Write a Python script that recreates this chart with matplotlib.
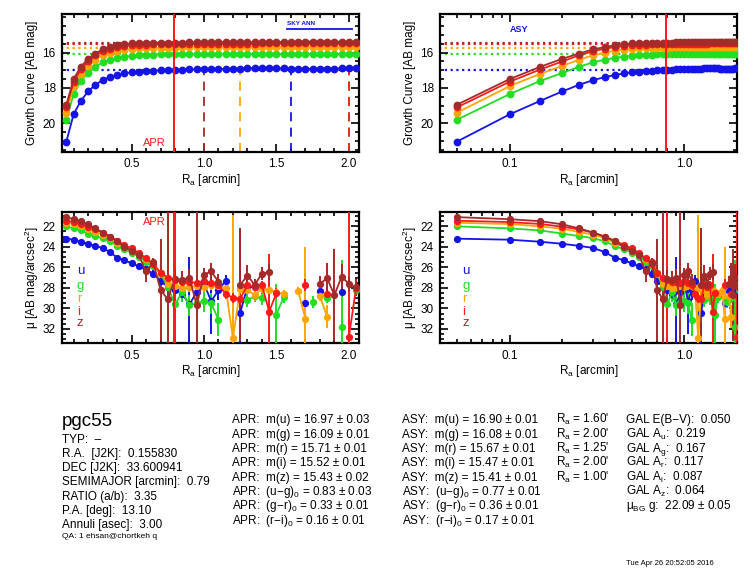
import numpy as np
import matplotlib
matplotlib.use("Agg")
import matplotlib.pyplot as plt
from matplotlib.ticker import MultipleLocator, LogLocator, FixedLocator, NullFormatter

plt.rcParams['font.family'] = ['Liberation Sans', 'DejaVu Sans']
plt.rcParams['mathtext.fontset'] = 'custom'
plt.rcParams['mathtext.rm'] = 'Liberation Sans'
plt.rcParams['mathtext.it'] = 'Liberation Sans:italic'
plt.rcParams['mathtext.bf'] = 'Liberation Sans:bold'

# ---------------- data ----------------
bands = ['u', 'g', 'r', 'i', 'z']
colors = ['#1414e6', '#22dd22', '#ffa500', '#ff1a1a', '#a52a2a']
nan = np.nan
radius = np.round(np.arange(1, 42) * 0.05, 2)  # arcmin

gc_u = [21.04, 19.50, 18.73, 18.20, 17.82, 17.56, 17.39, 17.27, 17.18, 17.11, 17.07, 17.04, 17.02, 17.00,
        16.98, 16.97, 16.96, 16.95, 16.95, 16.94, 16.93, 16.93, 16.92, 16.91, 16.90, 16.89, 16.87, 16.86,
        16.85, 16.87, 16.89, 16.90, 16.91, 16.91, 16.91, 16.90, 16.90, 16.90, 16.89, 16.89, 16.89]
gc_g = [19.80, 18.35, 17.60, 17.15, 16.80, 16.55, 16.40, 16.30, 16.23, 16.18, 16.15, 16.13, 16.11, 16.10,
        16.09, 16.09, 16.09, 16.10, 16.10, 16.10, 16.09, 16.09, 16.09, 16.09, 16.09, 16.09, 16.09, 16.09,
        16.09, 16.09, 16.08, 16.08, 16.08, 16.08, 16.08, 16.08, 16.08, 16.08, 16.08, 16.08, 16.08]
gc_r = [19.40, 17.90, 17.20, 16.75, 16.40, 16.15, 16.00, 15.90, 15.83, 15.79, 15.76, 15.74, 15.73, 15.72,
        15.71, 15.71, 15.70, 15.70, 15.69, 15.69, 15.69, 15.68, 15.68, 15.68, 15.67, 15.67, 15.67, 15.67,
        15.66, 15.66, 15.66, 15.66, 15.66, 15.66, 15.66, 15.66, 15.66, 15.66, 15.66, 15.66, 15.66]
gc_i = [19.10, 17.65, 16.95, 16.50, 16.15, 15.92, 15.78, 15.68, 15.62, 15.58, 15.56, 15.54, 15.53, 15.52,
        15.52, 15.52, 15.51, 15.51, 15.50, 15.50, 15.50, 15.50, 15.50, 15.50, 15.49, 15.49, 15.49, 15.48,
        15.48, 15.48, 15.48, 15.48, 15.48, 15.47, 15.47, 15.47, 15.47, 15.47, 15.47, 15.47, 15.47]
gc_z = [18.95, 17.50, 16.80, 16.35, 16.05, 15.82, 15.68, 15.58, 15.52, 15.48, 15.46, 15.45, 15.44, 15.43,
        15.43, 15.43, 15.43, 15.42, 15.42, 15.41, 15.41, 15.41, 15.41, 15.41, 15.41, 15.41, 15.41, 15.40,
        15.40, 15.40, 15.39, 15.39, 15.38, 15.37, 15.37, 15.37, 15.37, 15.38, 15.38, 15.38, 15.38]

sb_u = [23.2, 23.3, 23.5, 23.7, 23.9, 24.1, 24.5, 25.05, 25.3, 25.6, 25.9, 26.2, 26.6, 27.3,
        27.9, 28.2, 28.6, 29.6, 28.4, 27.6, 29.3, 28.2, 27.3, nan, 30.4, 27.9, 27.95, nan,
        nan, nan, nan, nan, nan, 29.45, nan, 28.3, nan, nan, 28.4, nan, nan]
sb_u_err = [0.05, 0.05, 0.05, 0.05, 0.05, 0.05, 0.05, 0.05, 0.05, 0.08, 0.1, 0.15, 0.3, 0.5,
            0.6, 0.8, 0.8, 4.6, 1.0, 0.8, 3.2, 1.0, 0.6, nan, 8.0, 0.5, 0.5, nan,
            nan, nan, nan, nan, nan, 0.4, nan, 0.4, nan, nan, 0.4, nan, nan]
sb_g = [22.0, 22.2, 22.4, 22.7, 22.95, 23.15, 23.45, 23.9, 24.25, 24.55, 24.95, 25.45, 25.9, 26.6,
        27.9, 29.6, 28.4, 29.7, 29.5, 29.3, 29.5, 31.1, nan, nan, nan, 29.2, 28.8, 29.0,
        nan, 30.6, 28.9, nan, nan, nan, 29.4, nan, 29.0, nan, 31.8, nan, 28.2]
sb_g_err = [0.05, 0.05, 0.05, 0.05, 0.05, 0.05, 0.05, 0.05, 0.05, 0.05, 0.08, 0.1, 0.3, 0.6,
            1.0, 1.5, 1.0, 1.0, 1.0, 1.0, 1.0, 1.6, nan, nan, nan, 0.7, 0.6, 0.7,
            nan, 3.0, 0.6, nan, nan, nan, 0.6, nan, 0.5, nan, 6.5, nan, 0.5]
sb_r = [21.65, 21.77, 22.0, 22.23, 22.55, 22.8, 23.17, 23.6, 24.0, 24.3, 24.7, 25.2, 25.7, 26.5,
        27.6, 27.8, 28.0, 27.9, 27.8, 27.9, 27.7, 27.8, 28.0, 32.9, 28.1, 28.2, 28.7, 28.05,
        28.2, 28.4, 28.6, nan, 28.3, 31.0, nan, 28.8, 30.8, nan, nan, nan, nan]
sb_r_err = [0.05, 0.05, 0.05, 0.05, 0.05, 0.05, 0.05, 0.05, 0.05, 0.05, 0.05, 0.1, 0.2, 0.4,
            0.6, 0.5, 0.5, 0.5, 0.5, 0.5, 0.5, 0.5, 0.5, 12.0, 0.5, 0.4, 0.6, 0.4,
            0.4, 0.4, 0.4, nan, 0.4, 7.0, nan, 0.5, 1.1, nan, nan, nan, nan]
sb_i = [21.45, 21.58, 21.77, 22.03, 22.3, 22.6, 23.0, 23.4, 23.8, 24.15, 24.6, 25.1, 25.7, 26.5,
        27.0, 27.2, 27.4, 27.45, 27.5, 27.3, 27.5, 27.7, 28.6, 28.95, 29.05, 27.75, 27.9, 27.75,
        30.3, 28.5, nan, nan, nan, 27.7, nan, nan, 28.55, nan, nan, 32.8, 28.0]
sb_i_err = [0.05, 0.05, 0.05, 0.05, 0.05, 0.05, 0.05, 0.05, 0.05, 0.05, 0.05, 0.1, 0.2, 0.4,
            0.5, 12.0, 0.5, 0.5, 0.5, 0.5, 0.5, 0.5, 0.5, 0.5, 0.5, 0.4, 0.4, 0.4,
            5.6, 0.5, nan, nan, nan, 0.6, nan, nan, 0.6, nan, nan, 13.0, 0.6]
sb_z = [21.1, 21.3, 21.5, 21.8, 22.2, 22.6, 23.0, 23.45, 24.0, 24.4, 24.8, 26.4, 25.5, 28.2,
        29.1, 27.1, 27.2, 27.0, 29.7, 26.7, 26.4, 27.4, nan, nan, 27.7, 26.8, 27.7, 26.6,
        26.45, nan, nan, nan, nan, nan, nan, 27.6, 27.05, 28.7, 26.9, 27.6, 27.95]
sb_z_err = [0.05, 0.05, 0.05, 0.05, 0.05, 0.05, 0.05, 0.05, 0.05, 0.05, 0.1, 1.0, 0.4, 5.0,
            10.0, 0.9, 0.8, 0.8, 10.0, 0.6, 0.8, 0.8, nan, nan, 5.5, 1.0, 0.6, 0.6,
            0.8, nan, nan, nan, nan, nan, nan, 0.8, 1.5, 4.5, 1.2, 0.7, 0.8]

growth = [gc_u, gc_g, gc_r, gc_i, gc_z]
sbs = [sb_u, sb_g, sb_r, sb_i, sb_z]
sb_errs = [sb_u_err, sb_g_err, sb_r_err, sb_i_err, sb_z_err]

apr_radius = 0.79
apr_mag = [16.97, 16.09, 15.71, 15.52, 15.43]
apr_err = [0.03, 0.01, 0.01, 0.01, 0.02]
asy_mag = [16.90, 16.08, 15.67, 15.47, 15.41]
asy_err = [0.01, 0.01, 0.01, 0.01, 0.01]
asy_ra = [1.60, 2.00, 1.25, 2.00, 1.00]
apr_colors = [('u', 'g', 0.83, 0.03), ('g', 'r', 0.33, 0.01), ('r', 'i', 0.16, 0.01)]
asy_colors = [('u', 'g', 0.77, 0.01), ('g', 'r', 0.36, 0.01), ('r', 'i', 0.17, 0.01)]
sky_ann = [1.57, 2.02]
gal_ebv = 0.050
gal_A = [0.219, 0.167, 0.117, 0.087, 0.064]
mu_bg_g = (22.09, 0.05)
info_labels = ['TYP:  \u2013', 'R.A.  [J2K]:  0.155830', 'DEC [J2K]:  33.600941',
               'SEMIMAJOR [arcmin]:  0.79', 'RATIO (a/b):  3.35', 'P.A. [deg]:  13.10',
               'Annuli [asec]:  3.00']
galaxy = 'pgc55'
qa_text = 'QA: 1 ehsan@chortkeh q'
date_text = 'Tue Apr 26 20:52:05 2016'

# ---------------- figure ----------------
W, H = 756, 576
fig = plt.figure(figsize=(W / 100, H / 100), dpi=100)

def ax_at(x0, y0, x1, y1):
    return fig.add_axes([x0 / W, 1 - y1 / H, (x1 - x0) / W, (y1 - y0) / H])

ax_tl = ax_at(62, 14, 359, 152)
ax_tr = ax_at(440, 14, 737, 152)
ax_bl = ax_at(62, 212, 359, 343.3)
ax_br = ax_at(440, 212, 737, 343.3)

FS = 8.5
xlab = r'R$_\mathrm{a}$ [arcmin]'

def style(ax, logx):
    for s in ax.spines.values():
        s.set_linewidth(1.6)
    ax.tick_params(which='both', direction='in', top=True, right=True, labelsize=FS, width=1.2)
    ax.tick_params(which='major', length=6, pad=4.5)
    ax.tick_params(which='minor', length=3)
    if logx:
        ax.set_xscale('log')
        ax.set_xlim(0.04, 2.0)
        ax.xaxis.set_major_locator(FixedLocator([0.1, 1.0]))
        ax.set_xticklabels(['0.1', '1.0'])
        ax.xaxis.set_minor_locator(LogLocator(base=10, subs=np.arange(2, 10) * 1.0))
        ax.xaxis.set_minor_formatter(NullFormatter())
    else:
        ax.set_xlim(0.02, 2.07)
        ax.xaxis.set_major_locator(FixedLocator([0.5, 1.0, 1.5, 2.0]))
        ax.set_xticklabels(['0.5', '1.0', '1.5', '2.0'])
        ax.xaxis.set_minor_locator(MultipleLocator(0.1))
    ax.set_xlabel(xlab, fontsize=FS, labelpad=1)

ms = 4.6
lw = 1.3

# ---- growth curves ----
for ax, logx in [(ax_tl, False), (ax_tr, True)]:
    style(ax, logx)
    ax.set_ylim(21.63, 13.81)
    ax.yaxis.set_major_locator(FixedLocator([16, 18, 20]))
    ax.yaxis.set_minor_locator(MultipleLocator(0.5))
    ax.set_ylabel('Growth Curve [AB mag]', fontsize=FS, labelpad=3)
    for b in range(5):
        ax.plot([0.01, 3.0], [apr_mag[b], apr_mag[b]], linestyle=(0, (1, 1.6)), lw=1.6,
                color=colors[b], zorder=1)
    for b in range(5):
        ax.plot(radius, growth[b], '-o', color=colors[b], ms=ms, lw=lw, zorder=3, clip_on=True)
    ax.axvline(apr_radius, color='#ff1a1a', lw=1.4, zorder=4)

# dashed lines at asymptotic radii (left only)
for b in [1, 3, 4, 2, 0]:
    ax_tl.plot([asy_ra[b], asy_ra[b]], [21.63, 16.72], linestyle=(0, (5, 3.5)), lw=1.3,
               color=colors[b], zorder=2)
ax_tl.text(apr_radius - 0.055, 21.13, 'APR', color='#ff1a1a', fontsize=8, ha='right', va='center')
ax_tl.plot(sky_ann, [14.67, 14.67], color='#1414e6', lw=1.3, zorder=4)
ax_tl.text(sky_ann[0], 14.5, 'SKY ANN', color='#1414e6', fontsize=4.6, fontweight='bold',
           ha='left', va='bottom')
ax_tr.text(0.1, 14.7, 'ASY', color='#1414e6', fontsize=6.5, fontweight='bold', ha='left', va='center')

# ---- surface brightness ----
for ax, logx in [(ax_bl, False), (ax_br, True)]:
    style(ax, logx)
    ax.set_ylim(33.4, 20.6)
    ax.yaxis.set_major_locator(FixedLocator([22, 24, 26, 28, 30, 32]))
    ax.yaxis.set_minor_locator(MultipleLocator(0.5))
    ax.set_ylabel('\u03bc [AB mag/arcsec$^2$]', fontsize=FS, labelpad=1)
    for b in range(5):
        ax.errorbar(radius, sbs[b], yerr=sb_errs[b], fmt='-o', color=colors[b], ms=ms - 0.4,
                    lw=lw, elinewidth=1.4, capsize=0, zorder=3)
    lx = 0.05 if not logx else 0.075
    for b, yy in zip(range(5), [0.553, 0.436, 0.335, 0.24, 0.152]):
        ax.text(lx, yy, bands[b], color=colors[b], fontsize=9.5, transform=ax.transAxes,
                ha='left', va='center')

ax_bl.axvline(apr_radius, color='#ff1a1a', lw=1.4, zorder=4)
ax_bl.text(apr_radius - 0.055, 21.58, 'APR', color='#ff1a1a', fontsize=8, ha='right', va='center')

# ---------------- text block ----------------
TFS = 8.5
def ftext(px, py, s, **kw):
    # py is the visual centre of capitals; place by baseline for consistent rows
    kw.setdefault('fontsize', TFS)
    off = kw['fontsize'] * 100 / 72 * 0.36
    fig.text(px / W, 1 - (py + off) / H, s, ha='left', va='baseline', **kw)

ftext(62, 419, galaxy, fontsize=13.5)
for k, s in enumerate(info_labels):
    ftext(62, 438.3 + k * 14.28, s)
ftext(62, 535, qa_text, fontsize=6)

rows = [419 + k * 14.35 for k in range(8)]
for b in range(5):
    ftext(232, rows[b], 'APR:  m(%s) = %.2f \u00b1 %.2f' % (bands[b], apr_mag[b], apr_err[b]))
    ftext(402, rows[b], 'ASY:  m(%s) = %.2f \u00b1 %.2f' % (bands[b], asy_mag[b], asy_err[b]))
    ftext(556, rows[b], r"R$_\mathrm{a}$ = %.2f'" % asy_ra[b])
for k, (c1, c2, v, e) in enumerate(apr_colors):
    ftext(232, rows[5 + k], 'APR:  (%s\u2212%s)$_0$ = %.2f \u00b1 %.2f' % (c1, c2, v, e))
for k, (c1, c2, v, e) in enumerate(asy_colors):
    ftext(402, rows[5 + k], 'ASY:  (%s\u2212%s)$_0$ = %.2f \u00b1 %.2f' % (c1, c2, v, e))

ftext(626, rows[0], 'GAL E(B\u2212V):  %.3f' % gal_ebv)
for b in range(5):
    ftext(626, rows[1 + b], 'GAL A$_\\mathrm{%s}$:  %.3f' % (bands[b], gal_A[b]))
ftext(626, rows[6], '\u03bc$_\\mathrm{BG}$ g:  %.2f \u00b1 %.2f' % mu_bg_g)
ftext(626, 562, date_text, fontsize=5.5)

fig.savefig('out.png', dpi=100)
